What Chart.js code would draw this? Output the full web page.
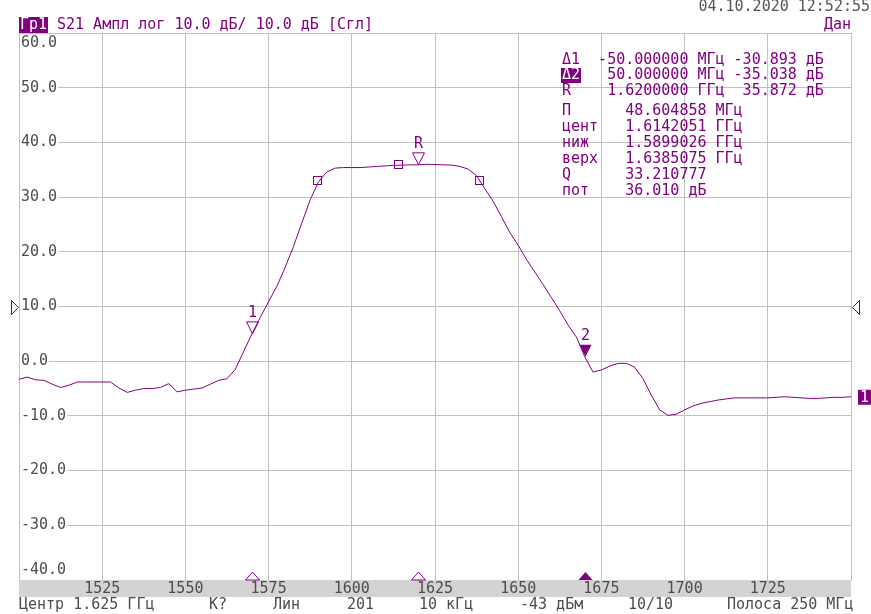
<!DOCTYPE html>
<html lang="ru">
<head>
    <meta charset="UTF-8">
    <title>S21 Ампл лог</title>
    <script src="https://cdn.jsdelivr.net/npm/chart.js"></script>
    <style>
        body { margin: 0; background: #fff; }
        canvas { display: block; }
    </style>
</head>
<body>
    <canvas id="vna" width="871" height="614"></canvas>

    <script>
        // sweep points, MHz
        const freqs = [
            1500, 1502.5, 1505, 1507.5, 1510, 1512.5, 1515, 1517.5, 1520, 1522.5,
            1525, 1527.5, 1530, 1532.5, 1535, 1537.5, 1540, 1542.5, 1545, 1547.5,
            1550, 1552.5, 1555, 1557.5, 1560, 1562.5, 1565, 1567.5, 1570, 1572.5,
            1575, 1577.5, 1580, 1582.5, 1585, 1587.5, 1590, 1592.5, 1595, 1597.5,
            1600, 1602.5, 1605, 1607.5, 1610, 1612.5, 1615, 1617.5, 1620, 1622.5,
            1625, 1627.5, 1630, 1632.5, 1635, 1637.5, 1640, 1642.5, 1645, 1647.5,
            1650, 1652.5, 1655, 1657.5, 1660, 1662.5, 1665, 1667.5, 1670, 1672.5,
            1675, 1677.5, 1680, 1682.5, 1685, 1687.5, 1690, 1692.5, 1695, 1697.5,
            1700, 1702.5, 1705, 1707.5, 1710, 1712.5, 1715, 1717.5, 1720, 1722.5,
            1725, 1727.5, 1730, 1732.5, 1735, 1737.5, 1740, 1742.5, 1745, 1747.5,
            1750
        ];
        // S21, dB
        const s21 = [
            -3.3, -2.9, -3.4, -3.5, -4.2, -4.8, -4.4, -3.8, -3.8, -3.8,
            -3.8, -3.8, -4.9, -5.7, -5.3, -5.0, -5.0, -4.8, -4.1, -5.6,
            -5.3, -5.1, -4.9, -4.2, -3.5, -3.2, -1.5, 1.8, 5.0, 8.0,
            10.9, 13.7, 17.2, 21.0, 25.3, 29.5, 32.8, 34.6, 35.3, 35.4,
            35.4, 35.4, 35.5, 35.6, 35.7, 35.8, 35.85, 35.9, 35.9, 36.0,
            35.95, 35.9, 35.85, 35.6, 35.1, 33.9, 31.5, 29.2, 26.4, 23.5,
            21.2, 18.6, 16.3, 14.0, 11.6, 9.2, 6.6, 4.4, 0.8, -2.0,
            -1.6, -0.9, -0.4, -0.4, -1.1, -3.2, -6.2, -8.9, -9.9, -9.7,
            -8.9, -8.2, -7.7, -7.4, -7.1, -6.9, -6.7, -6.7, -6.7, -6.7,
            -6.7, -6.6, -6.5, -6.6, -6.7, -6.8, -6.8, -6.7, -6.6, -6.6,
            -6.5
        ];

        const xTicks = [1525, 1550, 1575, 1600, 1625, 1650, 1675, 1700, 1725];
        const yTicks = [60, 50, 40, 30, 20, 10, 0, -10, -20, -30, -40];

        const markerFreqs = [1570, 1670, 1620];
        const markerNames = ['1', '2', 'R'];
        const markerActive = [false, true, false];

        const bwFreqs = [1589.9026, 1614.2051, 1638.5075];
        const bwLevels = [33.01, 35.8, 33.01];

        const refLevel = 10;

        const tableRows = [
            'Δ1  -50.000000 МГц -30.893 дБ',
            'Δ2   50.000000 МГц -35.038 дБ',
            'R    1.6200000 ГГц  35.872 дБ',
            'П      48.604858 МГц',
            'цент   1.6142051 ГГц',
            'ниж    1.5899026 ГГц',
            'верх   1.6385075 ГГц',
            'Q      33.210777',
            'пот    36.010 дБ'
        ];
        const tableY = [60, 75, 91, 111, 127, 143, 159, 175, 191];

        const footer = [
            ['Центр 1.625 ГГц', 19], ['К?', 209], ['Лин', 273], ['201', 347],
            ['10 кГц', 419], ['-43 дБм', 520], ['10/10', 628], ['Полоса 250 МГц', 727]
        ];

        const PURPLE = '#800080';
        const FONT = '15px "DejaVu Sans Mono", monospace';

        function valueAt(f) {
            const i = freqs.indexOf(f);
            if (i >= 0) return s21[i];
            for (let k = 0; k < freqs.length - 1; k++) {
                if (f >= freqs[k] && f <= freqs[k + 1]) {
                    const t = (f - freqs[k]) / (freqs[k + 1] - freqs[k]);
                    return s21[k] + t * (s21[k + 1] - s21[k]);
                }
            }
            return 0;
        }

        const overlay = {
            id: 'overlay',
            afterDraw(chart) {
                const ctx = chart.ctx;
                const xs = chart.scales.x, ys = chart.scales.y;
                const area = chart.chartArea;
                ctx.save();
                ctx.font = FONT;
                ctx.textBaseline = 'middle';

                // header
                ctx.fillStyle = PURPLE;
                ctx.fillRect(19, 17, 29, 16);
                ctx.fillStyle = '#fff';
                ctx.fillText('Гр1', 20, 25);
                ctx.fillStyle = PURPLE;
                ctx.fillText('S21 Ампл лог 10.0 дБ/ 10.0 дБ [Сгл]', 57, 25);
                ctx.textAlign = 'right';
                ctx.fillText('Дан', 851, 25);
                ctx.fillStyle = '#555';
                ctx.fillText('04.10.2020 12:52:55', 870, 7);
                ctx.textAlign = 'left';

                // y labels
                yTicks.forEach(v => {
                    const txt = v.toFixed(1);
                    let y = ys.getPixelForValue(v);
                    if (v === 60) y += 10;
                    if (v === -40) y -= 10;
                    const w = ctx.measureText(txt).width;
                    ctx.fillStyle = '#fff';
                    ctx.fillRect(20, y - 7, w + 2, 14);
                    ctx.fillStyle = '#4d4d4d';
                    ctx.fillText(txt, 21, y);
                });

                // x band
                ctx.fillStyle = '#d3d3d3';
                ctx.fillRect(area.left, area.bottom, area.right - area.left, 17);
                ctx.fillStyle = '#4d4d4d';
                ctx.textAlign = 'center';
                xTicks.forEach(f => ctx.fillText(String(f), xs.getPixelForValue(f), area.bottom + 9));
                ctx.textAlign = 'left';

                // footer
                ctx.fillStyle = '#4d4d4d';
                footer.forEach(([t, x]) => ctx.fillText(t, x, 605));

                // bandwidth squares
                ctx.strokeStyle = PURPLE;
                ctx.lineWidth = 1;
                bwFreqs.forEach((f, i) => {
                    const x = Math.round(xs.getPixelForValue(f)), y = Math.round(ys.getPixelForValue(bwLevels[i]));
                    ctx.strokeRect(x - 4.5, y - 4.5, 8, 8);
                });

                // markers
                markerFreqs.forEach((f, i) => {
                    const x = Math.round(xs.getPixelForValue(f)) + 0.5;
                    const y = ys.getPixelForValue(valueAt(f));
                    ctx.beginPath();
                    ctx.moveTo(x - 6, y - 12);
                    ctx.lineTo(x + 6, y - 12);
                    ctx.lineTo(x, y);
                    ctx.closePath();
                    ctx.fillStyle = PURPLE;
                    if (markerActive[i]) ctx.fill(); else ctx.stroke();
                    ctx.textAlign = 'center';
                    ctx.fillText(markerNames[i], x, y - 21);
                    // bottom marks
                    const b = area.bottom;
                    ctx.beginPath();
                    ctx.moveTo(x - 7, b);
                    ctx.lineTo(x, b - 8);
                    ctx.lineTo(x + 7, b);
                    ctx.closePath();
                    if (markerActive[i]) ctx.fill(); else ctx.stroke();
                });
                ctx.textAlign = 'left';

                // reference level triangles
                const ry = Math.round(ys.getPixelForValue(refLevel)) + 0.5;
                ctx.beginPath();
                ctx.moveTo(11.5, ry - 7);
                ctx.lineTo(18.5, ry);
                ctx.lineTo(11.5, ry + 7);
                ctx.closePath();
                ctx.stroke();
                ctx.beginPath();
                ctx.moveTo(859.5, ry - 7);
                ctx.lineTo(852.5, ry);
                ctx.lineTo(859.5, ry + 7);
                ctx.closePath();
                ctx.stroke();

                // trace tag
                const ty = ys.getPixelForValue(s21[s21.length - 1]);
                ctx.fillStyle = PURPLE;
                ctx.fillRect(858, ty - 7, 13, 15);
                ctx.fillStyle = '#fff';
                ctx.fillText('1', 860, ty + 1);

                // marker table
                ctx.fillStyle = PURPLE;
                ctx.fillRect(561, 68, 20, 15);
                tableRows.forEach((t, i) => {
                    if (i === 1) {
                        ctx.fillStyle = '#fff';
                        ctx.fillText(t.slice(0, 2), 562, tableY[i]);
                        ctx.fillStyle = PURPLE;
                        ctx.fillText(t.slice(2), 562 + ctx.measureText(t.slice(0, 2)).width, tableY[i]);
                    } else {
                        ctx.fillStyle = PURPLE;
                        ctx.fillText(t, 562, tableY[i]);
                    }
                });
                ctx.restore();
            }
        };

        new Chart(document.getElementById('vna').getContext('2d'), {
            type: 'line',
            data: {
                datasets: [{
                    data: freqs.map((f, i) => ({ x: f, y: s21[i] })),
                    borderColor: PURPLE,
                    borderWidth: 1,
                    pointRadius: 0,
                    tension: 0,
                    fill: false
                }]
            },
            options: {
                responsive: false,
                animation: false,
                devicePixelRatio: 1,
                layout: { padding: { left: 19, right: 20, top: 33, bottom: 34 } },
                plugins: { legend: { display: false }, tooltip: { enabled: false } },
                scales: {
                    x: {
                        type: 'linear', min: 1500, max: 1750,
                        ticks: { stepSize: 25, display: false },
                        grid: { color: '#c0c0c0', drawTicks: false },
                        border: { color: '#c0c0c0' }
                    },
                    y: {
                        min: -40, max: 60,
                        ticks: { stepSize: 10, display: false },
                        grid: { color: '#c0c0c0', drawTicks: false },
                        border: { color: '#c0c0c0' }
                    }
                }
            },
            plugins: [overlay]
        });
    </script>
</body>
</html>
